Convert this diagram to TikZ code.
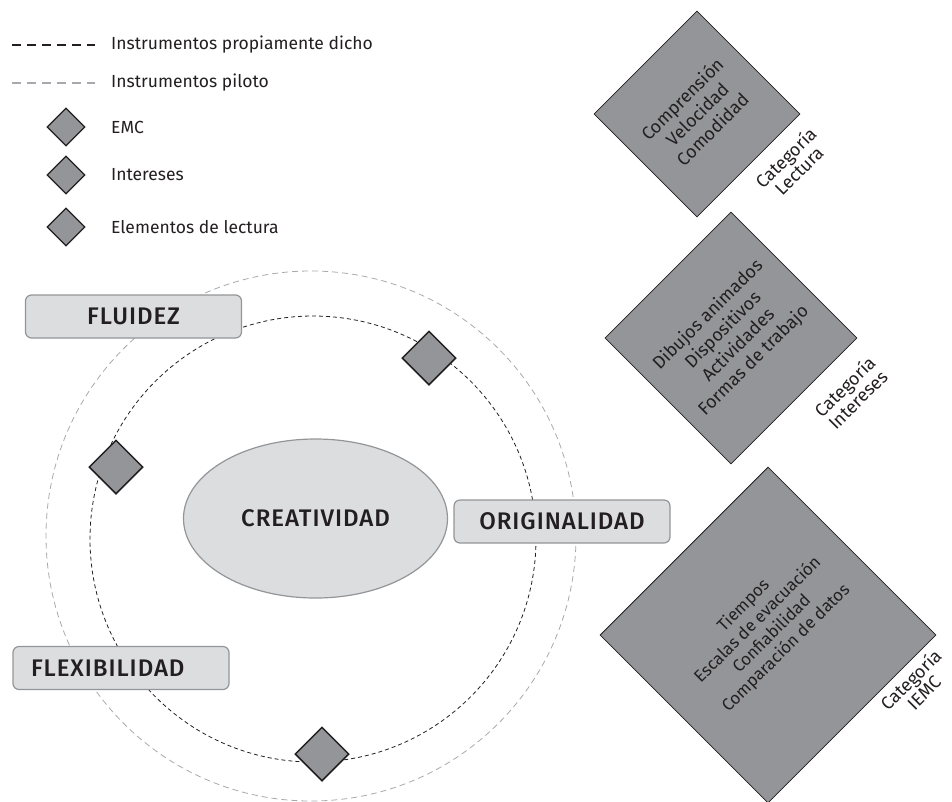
\documentclass[tikz,border=0pt]{standalone}
\usepackage{fontspec}
\setmainfont{Fira Sans}
\newfontfamily\medio{Fira Sans}[UprightFont=* Medium, LetterSpace=4]
\usetikzlibrary{shapes.geometric}
\definecolor{tinta}{HTML}{231F20}
\definecolor{grismedio}{HTML}{939598}
\definecolor{grisclaro}{HTML}{DCDDDF}
\definecolor{grispiloto}{HTML}{A7A9AC}
\tikzset{
  rombo/.style={diamond, aspect=1, inner sep=0pt, fill=grismedio, draw=tinta},
  caja/.style={draw=grismedio, line width=1.2pt, fill=grisclaro, rounded corners=6pt,
    minimum width=216pt, minimum height=43pt, font=\medio\fontsize{24}{26}\selectfont},
  propio/.style={draw=tinta, dash pattern=on 4pt off 3pt, line width=0.8pt},
  piloto/.style={draw=grispiloto, dash pattern=on 6pt off 4pt, line width=0.8pt},
  leyenda/.style={anchor=west, inner sep=0pt, font=\fontsize{17.5}{20}\selectfont},
  lista/.style={rotate=45, align=center, font=\fontsize{18}{21.5}\selectfont},
  categoria/.style={rotate=45, align=center, inner sep=1pt, font=\fontsize{18}{18.5}\selectfont}
}
\begin{document}
\begin{tikzpicture}[x=1pt, y=-1pt, text=tinta]
   \useasboundingbox (0,0) rectangle (952,801);
   \begin{scope}
      \clip (0,0) rectangle (952,801);
      \draw[piloto] (311,536) circle (265);
   \end{scope}
   \draw[propio] (313,539) circle (223);

   \draw[propio, line width=2pt, dash pattern=on 9pt off 6pt] (12,45) -- (95,45);
   \draw[piloto, line width=2pt, dash pattern=on 9pt off 6pt] (12,83) -- (95,83);
   \node[leyenda] (propio) at (111,45) {Instrumentos propiamente dicho};
   \node[leyenda] (piloto) at (111,83) {Instrumentos piloto};
   \node[rombo, minimum size=38pt, line width=1.3pt] (remc) at (66,127) {};
   \node[rombo, minimum size=38pt, line width=1.3pt] (rint) at (66,175) {};
   \node[rombo, minimum size=38pt, line width=1.3pt] (rlec) at (66,227) {};
   \node[leyenda] (emc) at (111,127) {EMC};
   \node[leyenda] (intereses) at (111,175) {Intereses};
   \node[leyenda] (elementos) at (111,227) {Elementos de lectura};

   \node[ellipse, draw=grismedio, line width=1.2pt, fill=grisclaro,
      minimum width=264pt, minimum height=159pt,
      font=\medio\fontsize{24}{26}\selectfont] (creatividad) at (315.5,518.5) {CREATIVIDAD};
   \node[caja] (fluidez) at (133.5,316.5) {FLUIDEZ};
   \node[caja] (originalidad) at (562,521.5) {ORIGINALIDAD};
   \node[caja, text width=180pt, align=left] (flexibilidad) at (121,668) {FLEXIBILIDAD};

   \node[rombo, minimum size=54pt, line width=1.5pt] (r1) at (429,358) {};
   \node[rombo, minimum size=54pt, line width=1.5pt] (r2) at (116,467) {};
   \node[rombo, minimum size=54pt, line width=1.5pt] (r3) at (322,754) {};

   \node[rombo, minimum size=206pt, line width=0.8pt] (lectura) at (697,114) {};
   \node[lista] at (lectura.center) {Comprensión\\Velocidad\\Comodidad};
   \node[categoria] (catlectura) at (792,164) {Categoría\\Lectura};

   \node[rombo, minimum size=252pt, line width=0.8pt] (interes) at (731,338) {};
   \node[lista] at (interes.center) {Dibujos animados\\Dispositivos\\Actividades\\Formas de trabajo};
   \node[categoria] (catinteres) at (851,393) {Categoría\\Intereses};

   \node[rombo, minimum size=336pt, line width=0.8pt] (iemc) at (768,635) {};
   \node[lista, font=\fontsize{17}{20}\selectfont] at (765,627)
      {Tiempos\\Escalas de evacuación\\Confiabilidad\\Comparación de datos};
   \node[categoria] (catiemc) at (917,686) {Categoría\\IEMC};
\end{tikzpicture}
\end{document}
